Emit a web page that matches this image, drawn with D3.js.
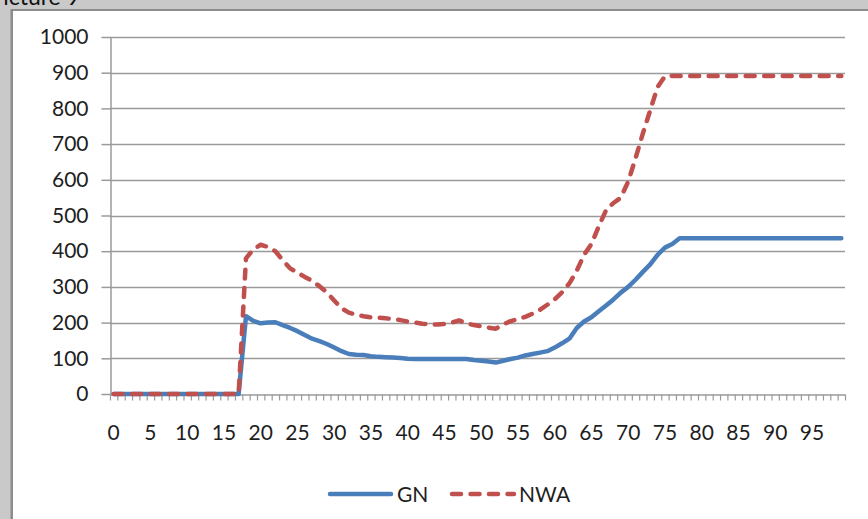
<!DOCTYPE html>
<html>
<head>
<meta charset="utf-8">
<script src="https://cdn.jsdelivr.net/npm/d3@7"></script>
<style>
  html, body { margin: 0; padding: 0; background: #c9c9c9; overflow: hidden; }
  svg { display: block; }
  text { font-family: Lato, "Open Sans", sans-serif; }
</style>
</head>
<body>
<svg id="chart" width="868" height="519"></svg>
<script>
// Categories 0..99 along the horizontal axis
const categories = d3.range(0, 100);

// Tick labels shown every fifth category
const xTickLabels = categories.filter(d => d % 5 === 0);
const yTickValues = d3.range(0, 1001, 100);

// Series values, one per category
const GN = [
  0, 0, 0, 0, 0, 0, 0, 0, 0, 0,
  0, 0, 0, 0, 0, 0, 0, 0, 218, 205,
  198, 200, 201, 193, 185, 176, 165, 155, 148, 140,
  130, 120, 112, 110, 109, 106, 104, 103, 102, 101,
  99, 98, 98, 98, 98, 98, 98, 98, 98, 95,
  93, 91, 88, 93, 98, 102, 108, 112, 116, 120,
  130, 142, 155, 185, 203, 215, 232, 248, 265, 284,
  300, 320, 342, 363, 390, 410, 420, 436, 436, 436,
  436, 436, 436, 436, 436, 436, 436, 436, 436, 436,
  436, 436, 436, 436, 436, 436, 436, 436, 436, 436
];

const NWA = [
  0, 0, 0, 0, 0, 0, 0, 0, 0, 0,
  0, 0, 0, 0, 0, 0, 0, 0, 380, 405,
  418, 412, 400, 375, 352, 340, 328, 317, 302, 285,
  262, 240, 228, 222, 218, 215, 214, 212, 210, 207,
  203, 200, 197, 195, 195, 196, 200, 206, 198, 193,
  190, 186, 183, 195, 204, 210, 216, 225, 236, 250,
  265, 285, 310, 345, 390, 420, 470, 515, 535, 550,
  595, 660, 730, 795, 860, 890, 891, 891, 891, 891,
  891, 891, 891, 891, 891, 891, 891, 891, 891, 891,
  891, 891, 891, 891, 891, 891, 891, 891, 891, 891
];

const seriesNames = ["GN", "NWA"];

const svg = d3.select("#chart");
const textColor = "#1e1e1e";
const fontSize = 21;

// Window frame around the chart, with its caption running off the top edge
svg.append("text")
  .attr("x", 80).attr("y", 5)
  .attr("text-anchor", "end")
  .attr("font-size", 23)
  .attr("fill", "#111")
  .text("Picture 9");
svg.append("rect")
  .attr("x", 10.5).attr("y", 9)
  .attr("width", 870).attr("height", 520)
  .attr("fill", "#8c8c8c");
svg.append("rect")
  .attr("x", 13).attr("y", 11)
  .attr("width", 870).attr("height", 520)
  .attr("fill", "#ffffff");

// Plot geometry
const plotLeft = 110, plotRight = 845, plotTop = 37, plotBottom = 394;

const x = d3.scaleBand().domain(categories).range([plotLeft, plotRight]).padding(0);
const xEdge = d3.scaleLinear().domain([0, categories.length]).range([plotLeft, plotRight]);
const y = d3.scaleLinear().domain([0, 1000]).range([plotBottom, plotTop]);

const axisColor = "#9a9a9a";

// Horizontal gridlines
svg.append("g")
  .selectAll("line")
  .data(yTickValues.filter(v => v > 0))
  .join("line")
  .attr("x1", plotLeft).attr("x2", plotRight)
  .attr("y1", d => Math.round(y(d)) + 0.5)
  .attr("y2", d => Math.round(y(d)) + 0.5)
  .attr("stroke", axisColor)
  .attr("stroke-width", 1.5);

// Y axis
const yAxis = svg.append("g")
  .attr("transform", `translate(${plotLeft + 0.5},0)`)
  .call(d3.axisLeft(y).tickValues(yTickValues).tickFormat(d3.format("d"))
    .tickSize(9).tickPadding(13).tickSizeOuter(0));
yAxis.select(".domain").attr("stroke", axisColor).attr("stroke-width", 1.5);
yAxis.selectAll(".tick line").attr("stroke", axisColor).attr("stroke-width", 1.5);
yAxis.selectAll(".tick text")
  .attr("font-size", fontSize)
  .attr("fill", textColor)
  .attr("font-family", "Lato, sans-serif");

// X axis: tick marks on category boundaries
const xAxisTicks = svg.append("g")
  .attr("transform", `translate(0,${plotBottom + 0.5})`)
  .call(d3.axisBottom(xEdge).tickValues(d3.range(0, categories.length + 1))
    .tickSize(6).tickFormat("").tickSizeOuter(0));
xAxisTicks.select(".domain").attr("stroke", axisColor).attr("stroke-width", 1.5);
xAxisTicks.selectAll(".tick line").attr("stroke", axisColor).attr("stroke-width", 1.2);

// X axis labels centred on categories
const xAxisLabels = svg.append("g")
  .attr("transform", `translate(0,${plotBottom})`)
  .call(d3.axisBottom(x).tickValues(xTickLabels).tickSize(0).tickPadding(31));
xAxisLabels.select(".domain").remove();
xAxisLabels.selectAll(".tick text")
  .attr("font-size", fontSize)
  .attr("fill", textColor)
  .attr("font-family", "Lato, sans-serif");

// Lines
const line = d3.line()
  .x((d, i) => x(categories[i]) + x.bandwidth() / 2)
  .y(d => y(d));

svg.append("path")
  .datum(GN)
  .attr("d", line)
  .attr("fill", "none")
  .attr("stroke", "#4a7ebb")
  .attr("stroke-width", 4.5)
  .attr("stroke-linejoin", "round")
  .attr("stroke-linecap", "round");

svg.append("path")
  .datum(NWA)
  .attr("d", line)
  .attr("fill", "none")
  .attr("stroke", "#c0504d")
  .attr("stroke-width", 4.5)
  .attr("stroke-dasharray", "9 9.5")
  .attr("stroke-linejoin", "round")
  .attr("stroke-linecap", "round");

// Legend
const legendY = 494;
const legend = svg.append("g");
legend.append("line")
  .attr("x1", 330).attr("x2", 391)
  .attr("y1", legendY).attr("y2", legendY)
  .attr("stroke", "#4a7ebb").attr("stroke-width", 4.5)
  .attr("stroke-linecap", "round");
legend.append("text")
  .attr("x", 397).attr("y", legendY + 7.5)
  .attr("font-size", fontSize).attr("fill", textColor)
  .text(seriesNames[0]);
legend.append("line")
  .attr("x1", 452).attr("x2", 514)
  .attr("y1", legendY).attr("y2", legendY)
  .attr("stroke", "#c0504d").attr("stroke-width", 4.5)
  .attr("stroke-dasharray", "9 9.5")
  .attr("stroke-linecap", "round");
legend.append("text")
  .attr("x", 519).attr("y", legendY + 7.5)
  .attr("font-size", fontSize).attr("fill", textColor)
  .text(seriesNames[1]);
</script>
</body>
</html>
